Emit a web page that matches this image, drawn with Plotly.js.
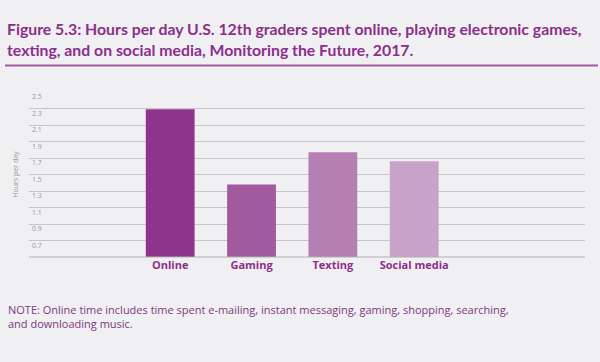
<!DOCTYPE html>
<html>
<head>
<meta charset="utf-8">
<script src="https://cdn.plot.ly/plotly-3.0.1.min.js"></script>
<style>html,body{margin:0;padding:0;background:#f0eff2;}#chart{width:600px;height:362px;}</style>
</head>
<body>
<div id="chart"></div>
<script>
const categories = ["Online", "Gaming", "Texting", "Social media"];
const hoursPerDay = [2.29, 1.38, 1.77, 1.66];
const barColors = ["#8e348c", "#a05a9d", "#b47fb2", "#c9a2c9"];
const yTickValues = [0.7, 0.9, 1.1, 1.3, 1.5, 1.7, 1.9, 2.1, 2.3, 2.5];
const yTickLabels = ["0.7", "0.9", "1.1", "1.3", "1.5", "1.7", "1.9", "2.1", "2.3", "2.5"];
const titleText = "Figure 5.3: Hours per day U.S. 12th graders spent online, playing electronic games,<br>texting, and on social media, Monitoring the Future, 2017.";
const noteText = "NOTE: Online time includes time spent e-mailing, instant messaging, gaming, shopping, searching,<br>and downloading music.";
const yAxisTitle = "Hours per day";

const purple = "#8b2f8b";
const data = [{
  type: "bar",
  x: categories,
  y: hoursPerDay,
  marker: {color: barColors, line: {width: 0}},
  width: 0.6,
  hoverinfo: "x+y"
}];

const layout = {
  width: 600, height: 362,
  paper_bgcolor: "#f0eff2",
  plot_bgcolor: "#f0eff2",
  margin: {l: 29, r: 15, t: 92, b: 105},
  showlegend: false,
  font: {family: "Open Sans, sans-serif"},
  title: {
    text: titleText,
    font: {family: "Lato, sans-serif", size: 15.8, color: purple, weight: 700},
    xref: "container", yref: "container",
    x: 7/600, xanchor: "left",
    y: 1 - 35/362, yanchor: "top"
  },
  xaxis: {
    type: "category",
    range: [-1.736, 5.1],
    showgrid: false,
    showline: false,
    zeroline: false,
    ticks: "",
    tickfont: {family: "Open Sans, sans-serif", size: 11, color: purple, weight: 700},
    fixedrange: true
  },
  yaxis: {
    range: [0.5, 2.5],
    tickvals: yTickValues,
    ticktext: yTickLabels,
    ticklabelposition: "inside bottom",
    tickfont: {family: "Open Sans, sans-serif", size: 7, color: "#9a9a9a"},
    showgrid: true,
    gridcolor: "#c6c6c8",
    gridwidth: 1,
    zeroline: false,
    showline: false,
    ticks: "",
    title: {text: yAxisTitle, font: {size: 7, color: "#9a9a9a"}, standoff: 12},
    fixedrange: true
  },
  shapes: [
    {type: "line", xref: "paper", yref: "paper", x0: -0.0432, x1: 1.0234, y0: 1.1606, y1: 1.1606,
     line: {color: "#a45aa4", width: 2}},
    {type: "line", xref: "paper", yref: "paper", x0: 0, x1: 1, y0: 0, y1: 0,
     line: {color: "#b0b0b2", width: 1}}
  ],
  annotations: [{
    text: noteText,
    xref: "paper", yref: "paper",
    x: (6 - 29) / 556, xanchor: "left",
    y: -(300 - 257) / 165, yanchor: "top",
    align: "left",
    showarrow: false,
    font: {family: "Open Sans, sans-serif", size: 11, color: "#7d3a7d"}
  }]
};

Plotly.newPlot("chart", data, layout, {displayModeBar: false, staticPlot: true});
</script>
</body>
</html>
